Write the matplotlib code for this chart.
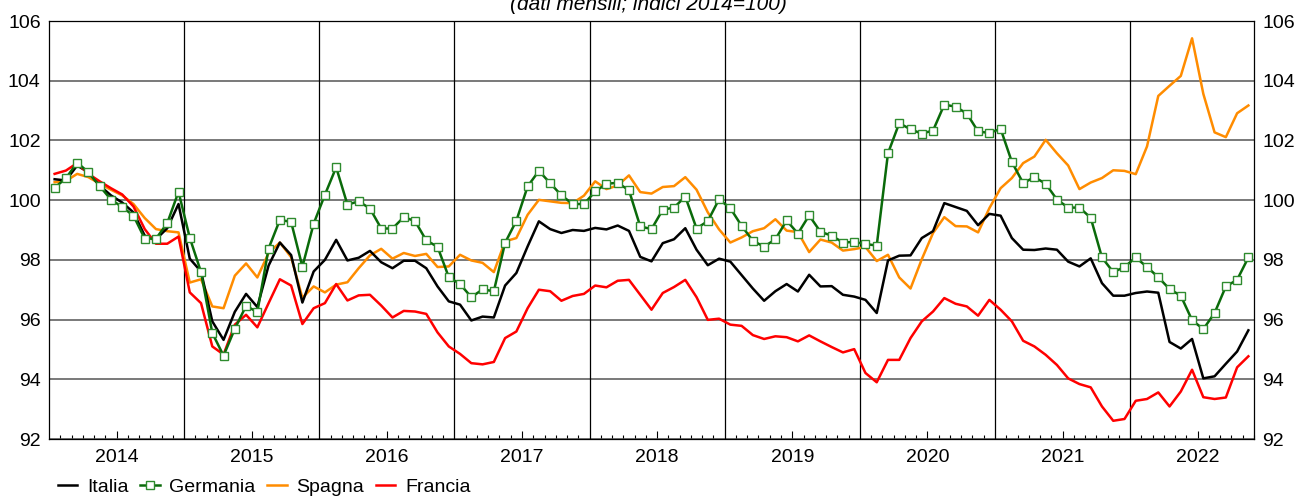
import matplotlib
matplotlib.use("Agg")
import matplotlib.pyplot as plt
import numpy as np

plt.rcParams['font.family'] = ['Liberation Sans', 'DejaVu Sans']

# monthly indices, Jan 2014 - Nov 2022 (2014=100)
years = [2014, 2015, 2016, 2017, 2018, 2019, 2020, 2021, 2022]

italia = [100.70, 100.66, 101.16, 100.93, 100.49, 100.16, 99.92, 99.59, 98.81, 98.69, 99.06, 99.87,
          98.04, 97.61, 95.94, 95.32, 96.26, 96.86, 96.42, 97.81, 98.58, 98.16, 96.57, 97.61,
          98.00, 98.67, 97.98, 98.07, 98.30, 97.92, 97.72, 97.97, 97.97, 97.72, 97.11, 96.61,
          96.50, 95.97, 96.10, 96.07, 97.14, 97.56, 98.45, 99.29, 99.03, 98.90, 99.00, 98.97,
          99.07, 99.02, 99.15, 98.97, 98.10, 97.95, 98.56, 98.69, 99.06, 98.34, 97.82, 98.04,
          97.94, 97.49, 97.04, 96.63, 96.95, 97.19, 96.94, 97.50, 97.11, 97.12, 96.83, 96.77,
          96.66, 96.22, 97.98, 98.14, 98.15, 98.73, 98.96, 99.90, 99.77, 99.64, 99.16, 99.54,
          99.48, 98.73, 98.34, 98.33, 98.38, 98.34, 97.94, 97.78, 98.05, 97.22, 96.80, 96.80,
          96.89, 96.94, 96.90, 95.25, 95.03, 95.35, 94.03, 94.10, 94.52, 94.93, 95.64]

germania = [100.42, 100.73, 101.26, 100.93, 100.47, 100.02, 99.77, 99.48, 98.71, 98.71, 99.23, 100.28,
            98.74, 97.59, 95.55, 94.79, 95.69, 96.46, 96.25, 98.38, 99.34, 99.27, 97.77, 99.21,
            100.18, 101.10, 99.85, 99.96, 99.72, 99.05, 99.05, 99.43, 99.30, 98.65, 98.44, 97.42,
            97.19, 96.75, 97.01, 96.95, 98.57, 99.31, 100.46, 100.98, 100.57, 100.16, 99.87, 99.87,
            100.29, 100.55, 100.58, 100.33, 99.12, 99.03, 99.68, 99.75, 100.12, 99.05, 99.30, 100.03,
            99.73, 99.14, 98.64, 98.44, 98.69, 99.32, 98.88, 99.49, 98.94, 98.81, 98.58, 98.60,
            98.53, 98.48, 101.57, 102.58, 102.37, 102.23, 102.33, 103.20, 103.13, 102.90, 102.30, 102.25,
            102.39, 101.28, 100.57, 100.77, 100.55, 100.02, 99.75, 99.75, 99.41, 98.08, 97.59, 97.76,
            98.08, 97.76, 97.42, 97.02, 96.80, 95.98, 95.68, 96.22, 97.11, 97.33, 98.08]

spagna = [100.60, 100.64, 100.88, 100.77, 100.55, 100.35, 100.16, 99.87, 99.40, 99.03, 98.96, 98.92,
          97.24, 97.35, 96.44, 96.38, 97.47, 97.88, 97.41, 98.23, 98.58, 98.09, 96.73, 97.11,
          96.91, 97.17, 97.25, 97.72, 98.15, 98.37, 98.04, 98.23, 98.13, 98.20, 97.76, 97.78,
          98.17, 97.98, 97.90, 97.59, 98.62, 98.73, 99.51, 100.01, 99.96, 99.91, 99.90, 100.15,
          100.63, 100.37, 100.49, 100.83, 100.27, 100.22, 100.44, 100.47, 100.77, 100.35, 99.59, 99.02,
          98.58, 98.75, 98.96, 99.06, 99.36, 98.98, 98.93, 98.26, 98.68, 98.58, 98.31, 98.36,
          98.43, 97.96, 98.17, 97.41, 97.04, 98.02, 98.90, 99.43, 99.13, 99.12, 98.92, 99.73,
          100.40, 100.74, 101.24, 101.46, 102.02, 101.57, 101.16, 100.37, 100.59, 100.74, 101.00, 100.98,
          100.87, 101.80, 103.49, 103.83, 104.16, 105.42, 103.56, 102.27, 102.11, 102.91, 103.17]

francia = [100.88, 100.99, 101.24, 100.88, 100.63, 100.40, 100.19, 99.79, 99.03, 98.54, 98.54, 98.78,
           96.91, 96.55, 95.10, 94.83, 95.83, 96.16, 95.74, 96.55, 97.35, 97.14, 95.85, 96.38,
           96.55, 97.19, 96.64, 96.81, 96.83, 96.47, 96.07, 96.29, 96.27, 96.19, 95.57, 95.10,
           94.85, 94.54, 94.50, 94.58, 95.38, 95.60, 96.38, 97.00, 96.95, 96.63, 96.79, 96.86,
           97.14, 97.08, 97.30, 97.33, 96.83, 96.33, 96.89, 97.09, 97.33, 96.75, 95.99, 96.03,
           95.83, 95.79, 95.48, 95.35, 95.44, 95.41, 95.27, 95.47, 95.27, 95.08, 94.90, 95.01,
           94.21, 93.90, 94.65, 94.65, 95.38, 95.94, 96.27, 96.72, 96.53, 96.44, 96.13, 96.66,
           96.33, 95.94, 95.29, 95.10, 94.82, 94.48, 94.03, 93.84, 93.73, 93.09, 92.61, 92.67,
           93.28, 93.34, 93.56, 93.09, 93.59, 94.32, 93.40, 93.34, 93.39, 94.40, 94.77]

x = np.arange(len(italia))

fig = plt.figure(figsize=(12.96, 4.97), dpi=100)
ax = fig.add_axes([49/1296, 1-439/497, (1254-49)/1296, (439-21)/497])

ax.plot(x, italia, color='black', lw=1.8, label='Italia', zorder=4)
ax.plot(x, germania, color='#0a6a0a', lw=1.8, marker='s', ms=5.2, mfc='white',
        mec='#2e8b2e', mew=1.0, label='Germania', zorder=6)
ax.plot(x, spagna, color='#ff8c00', lw=1.8, label='Spagna', zorder=3)
ax.plot(x, francia, color='#ff0000', lw=1.8, label='Francia', zorder=5)

ax.set_ylim(92, 106)
ax.set_xlim(-0.5, 106.3)
ax.set_yticks(np.arange(92, 107, 2))
ax.yaxis.grid(True, color='#555555', lw=1.1)
for k in range(1, len(years)):
    ax.axvline(12*k - 0.5, color='black', lw=0.9, zorder=1)

ax.set_xticks([12*k + 5.5 for k in range(len(years))])
ax.set_xticklabels([str(y) for y in years])
ax.set_xticks([m - 0.5 for m in range(0, 108) if m % 12 not in (0, 6)], minor=True)
ax.tick_params(axis='x', which='major', direction='in', length=6, width=0.8,
               labelsize=14, pad=7)
ax.tick_params(axis='x', which='minor', direction='in', length=3, width=0.8)
ax.tick_params(axis='y', length=0, labelsize=14, pad=6, labelright=True)
for s in ax.spines.values():
    s.set_linewidth(0.9)
ax.set_axisbelow(True)

# subtitle sits at the very top edge, partly clipped as in the source
ax.text(0.5, 1 - 10/497, '(dati mensili; indici 2014=100)', transform=fig.transFigure,
        ha='center', va='baseline', fontsize=15, style='italic')

fig.legend(loc='center left', bbox_to_anchor=(58/1296, 1 - 487/497), ncol=4, frameon=False,
           fontsize=14, handlelength=1.0, handletextpad=0.5, columnspacing=0.6,
           borderpad=0, borderaxespad=0)

fig.savefig('out.png', dpi=100)
